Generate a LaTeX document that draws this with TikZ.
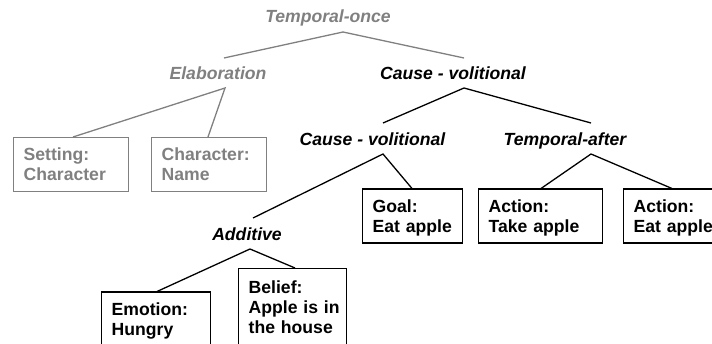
\documentclass[tikz,border=0pt]{standalone}
\usepackage{fontspec}
\setmainfont{Liberation Sans}
\newcommand\labfont{\bfseries\itshape\fontsize{17.6}{20}\selectfont}
\newcommand\boxfont{\bfseries\fontsize{17.6}{20}\selectfont}
\newcommand\topr{\rule{0pt}{17.7pt}}
\newcommand\botr{\rule[-5pt]{0pt}{5pt}}
\newcommand\longbotr{\rule[-25pt]{0pt}{25pt}}
\definecolor{lg}{RGB}{128,128,128}
\tikzset{
  lab/.style={font=\labfont, anchor=base, inner sep=0pt},
  glab/.style={lab, text=lg},
  bx/.style={draw, line width=1.4pt, font=\boxfont, align=left, anchor=north west,
    inner xsep=10pt, inner ysep=5.5pt},
  gbx/.style={bx, draw=lg, text=lg},
  conn/.style={line width=1.3pt, line join=miter},
  gconn/.style={conn, draw=lg},
}
\begin{document}
\begin{tikzpicture}[x=1pt,y=1pt]
\useasboundingbox (0,0) rectangle (712,-344);
\clip (0,0) rectangle (712,-344);
% labels
\node[glab] (t1) at (328,-22.3) {Temporal-once};
\node[glab] (el) at (218,-79.3) {Elaboration};
\node[lab] (cv1) at (453,-79.3) {Cause - volitional};
\node[lab] (cv2) at (372.5,-145.3) {Cause - volitional};
\node[lab] (ta) at (565,-145.3) {Temporal-after};
\node[lab] (ad) at (247,-240.3) {Additive};
% boxes
\node[gbx, text width=95pt] (set) at (13,-137) {\topr Setting:\\Character\botr};
\node[gbx, text width=95pt] (chr) at (151,-137) {\topr Character:\\Name\botr};
\node[bx, text width=80pt] (goal) at (362,-188.5) {\topr Goal:\\Eat~apple\botr};
\node[bx, text width=104pt] (take) at (478,-188.5) {\topr Action:\\Take~apple\botr};
\node[bx, text width=80pt] (eat) at (623,-188.5) {\topr Action:\\Eat~apple\botr};
\node[bx, text width=89pt] (emo) at (101,-291.5) {\topr Emotion:\\Hungry\longbotr};
\node[bx, text width=88pt] (bel) at (238,-268) {\rule{0pt}{19.5pt}Belief:\\Apple~is~in\\the~house\longbotr};
% connectors
\draw[gconn] ([shift={(6,21.3)}]el.base) -- ([shift={(15,-9.7)}]t1.base) -- ([shift={(11,21.3)}]cv1.base);
\draw[gconn] ([xshift=60pt]set.north west) -- ([shift={(7,-8.7)}]el.base) -- ([xshift=57pt]chr.north west);
\draw[conn] ([shift={(10.5,22.3)}]cv2.base) -- ([shift={(11,-8.7)}]cv1.base) -- ([shift={(26,22.3)}]ta.base);
\draw[conn] ([shift={(6,22.3)}]ad.base) -- ([shift={(10.5,-8.7)}]cv2.base) -- ([xshift=50pt]goal.north west);
\draw[conn] ([xshift=63pt]take.north west) -- ([shift={(26,-8.7)}]ta.base) -- ([xshift=49pt]eat.north west);
\draw[conn] ([xshift=56pt]emo.north west) -- ([shift={(3,-8.7)}]ad.base) -- ([xshift=57pt]bel.north west);
\end{tikzpicture}
\end{document}
